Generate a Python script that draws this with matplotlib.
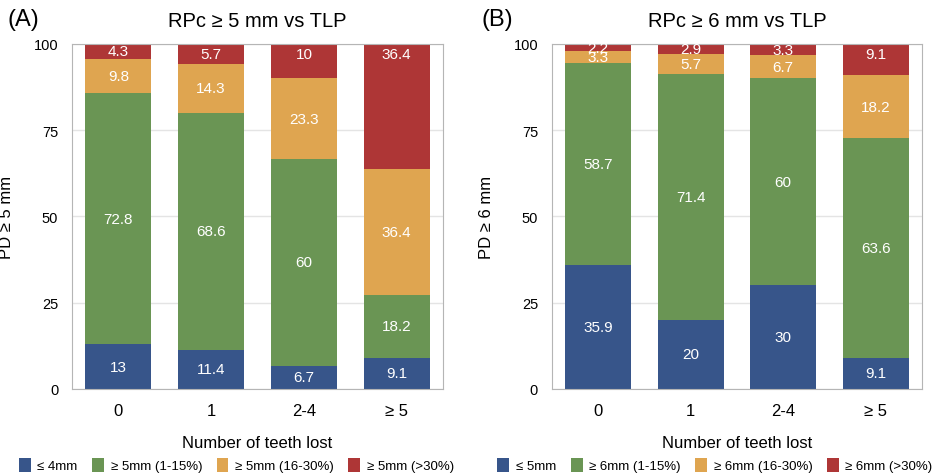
import matplotlib.pyplot as plt
from matplotlib.patches import Patch
import numpy as np

plt.rcParams['font.family'] = ['Liberation Sans', 'DejaVu Sans']

categories = ['0', '1', '2-4', '≥ 5']

# panel A: RPc >= 5 mm
a_low = [13, 11.4, 6.7, 9.1]
a_15 = [72.8, 68.6, 60, 18.2]
a_30 = [9.8, 14.3, 23.3, 36.4]
a_hi = [4.3, 5.7, 10, 36.4]
a_names = ['≤ 4mm', '≥ 5mm (1-15%)', '≥ 5mm (16-30%)', '≥ 5mm (>30%)']

# panel B: RPc >= 6 mm
b_low = [35.9, 20, 30, 9.1]
b_15 = [58.7, 71.4, 60, 63.6]
b_30 = [3.3, 5.7, 6.7, 18.2]
b_hi = [2.2, 2.9, 3.3, 9.1]
b_names = ['≤ 5mm', '≥ 6mm (1-15%)', '≥ 6mm (16-30%)', '≥ 6mm (>30%)']

colors = ['#37558a', '#6a9554', '#dfa550', '#ae3636']


def draw_panel(ax, series, names, title, ylabel, tag, fig, lx, legx):
    x = np.arange(len(categories))
    bottom = np.zeros(len(categories))
    for k, (vals, col) in enumerate(zip(series, colors)):
        vals = np.array(vals, dtype=float)
        ax.bar(x, vals, bottom=bottom, width=0.71, color=col,
               edgecolor='none', zorder=2)
        for i, v in enumerate(vals):
            if k == len(series) - 1:
                yy = 100 - min(v / 2, 3)
            else:
                yy = bottom[i] + v / 2
            ax.text(x[i], yy, f'{v:g}', ha='center', va='center',
                    color='white', fontsize=11, zorder=3)
        bottom += vals
    ax.set_xlim(-0.5, 3.5)
    ax.set_ylim(0, 100)
    ax.set_yticks([0, 25, 50, 75, 100])
    ax.set_xticks(x)
    ax.set_xticklabels(categories, fontsize=12)
    ax.tick_params(axis='both', length=0)
    ax.tick_params(axis='y', labelsize=10.5, pad=10)
    ax.tick_params(axis='x', pad=10)
    ax.grid(axis='y', color='#e4e4e4', linewidth=1, zorder=0)
    for s in ax.spines.values():
        s.set_color('#b5b5b5')
    ax.set_title(title, fontsize=14.5, pad=13)
    ax.set_ylabel(ylabel, fontsize=12, labelpad=14)
    ax.set_xlabel('Number of teeth lost', fontsize=12, labelpad=12)
    fig.text(lx, 0.958, tag, fontsize=17, va='center', ha='left')
    handles = [Patch(facecolor=c, edgecolor='none') for c in colors]
    fig.legend(handles, names, loc='center left',
               bbox_to_anchor=(legx, 0.023), borderaxespad=0, borderpad=0,
               ncol=4, frameon=False, fontsize=9.5, handlelength=0.9,
               handleheight=1.3, handletextpad=0.5, columnspacing=1.1)


fig = plt.figure(figsize=(9.44, 4.77), dpi=100)
ax1 = fig.add_axes([0.0763, 0.1824, 0.393, 0.7233])
ax2 = fig.add_axes([0.5847, 0.1824, 0.392, 0.7233])

draw_panel(ax1, [a_low, a_15, a_30, a_hi], a_names,
           'RPc ≥ 5 mm vs TLP', 'PD ≥ 5 mm', '(A)', fig, 0.008, 0.02)
draw_panel(ax2, [b_low, b_15, b_30, b_hi], b_names,
           'RPc ≥ 6 mm vs TLP', 'PD ≥ 6 mm', '(B)', fig, 0.51, 0.527)

fig.savefig('out.png', dpi=100)
